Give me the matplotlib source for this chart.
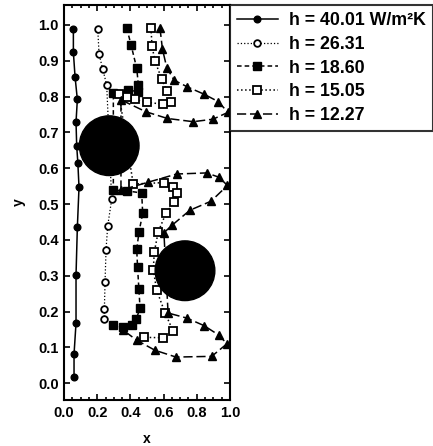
import matplotlib
matplotlib.use("Agg")
import matplotlib.pyplot as plt
from matplotlib.patches import Ellipse
from matplotlib.ticker import MultipleLocator

plt.rcParams['font.family'] = ['Liberation Sans', 'DejaVu Sans']
plt.rcParams['font.weight'] = 'bold'

labels = ["h = 40.01 W/m\u00b2K", "h = 26.31", "h = 18.60", "h = 15.05", "h = 12.27"]

# h = 40.01
x1 = [0.056, 0.056, 0.066, 0.080, 0.072, 0.076, 0.083, 0.090, 0.080, 0.072, 0.072, 0.060, 0.060]
y1 = [0.989, 0.924, 0.856, 0.792, 0.729, 0.663, 0.615, 0.547, 0.435, 0.302, 0.168, 0.081, 0.018]

# h = 26.31
x2 = [0.203, 0.211, 0.233, 0.257, 0.287, 0.263, 0.253, 0.247, 0.243, 0.243]
y2 = [0.989, 0.918, 0.877, 0.832, 0.513, 0.439, 0.373, 0.283, 0.206, 0.179]

# h = 18.60
x3 = [0.378, 0.404, 0.438, 0.448, 0.448, 0.387, 0.297, 0.297, 0.378, 0.468, 0.474,
      0.452, 0.438, 0.443, 0.451, 0.458, 0.434, 0.408, 0.357, 0.297]
y3 = [0.991, 0.944, 0.879, 0.832, 0.814, 0.818, 0.809, 0.539, 0.537, 0.531, 0.474,
      0.423, 0.374, 0.324, 0.263, 0.209, 0.178, 0.162, 0.156, 0.162]

# h = 15.05
x4 = [0.524, 0.530, 0.548, 0.589, 0.620, 0.646, 0.598, 0.498, 0.428, 0.378, 0.331,
      0.417, 0.602, 0.655, 0.683, 0.664, 0.614, 0.568, 0.544, 0.538, 0.558, 0.608,
      0.658, 0.596, 0.482]
y4 = [0.992, 0.942, 0.899, 0.849, 0.816, 0.785, 0.779, 0.784, 0.792, 0.798, 0.807,
      0.556, 0.560, 0.547, 0.530, 0.506, 0.474, 0.423, 0.367, 0.317, 0.260, 0.197,
      0.145, 0.127, 0.128]

# h = 12.27
x5 = [0.578, 0.593, 0.619, 0.663, 0.744, 0.843, 0.930, 0.988, 0.898, 0.779, 0.623,
      0.492, 0.343, 0.343, 0.506, 0.679, 0.860, 0.934, 0.985, 0.886, 0.759, 0.651,
      0.602, 0.627, 0.739, 0.843, 0.934, 0.982, 0.890, 0.675, 0.548, 0.438, 0.357]
y5 = [0.992, 0.933, 0.881, 0.846, 0.827, 0.807, 0.786, 0.756, 0.737, 0.730, 0.739,
      0.758, 0.791, 0.539, 0.561, 0.584, 0.587, 0.575, 0.552, 0.508, 0.483, 0.441,
      0.420, 0.196, 0.182, 0.161, 0.134, 0.110, 0.075, 0.073, 0.092, 0.120, 0.148]

# heated cylinders
cyl_x = [0.272, 0.729]
cyl_y = [0.663, 0.314]
cyl_d = 0.36

xlim = (0.0, 1.0)
ylim = (-0.047, 1.056)
pos = [0.148, 0.103, 0.383, 0.886]

fig = plt.figure(figsize=(4.33, 4.46), dpi=100)
ax = fig.add_axes(pos)

ax.plot(x1, y1, '-', color='black', lw=1.1, marker='o', ms=4.8, label=labels[0])
ax.plot(x2, y2, ':', color='black', lw=0.9, marker='o', ms=4.8, mfc='white', mew=1.3, label=labels[1])
ax.plot(x3, y3, color='black', ls=(0, (3, 2)), lw=1.1, marker='s', ms=5.5, label=labels[2])
ax.plot(x4, y4, ':', color='black', lw=1.1, marker='s', ms=5.3, mfc='white', mew=1.3, label=labels[3])
ax.plot(x5, y5, color='black', ls=(0, (6, 2.5)), lw=1.1, marker='^', ms=5.3, label=labels[4])

# keep cylinders round on screen
sx = fig.get_figwidth() * pos[2] / (xlim[1] - xlim[0])
sy = fig.get_figheight() * pos[3] / (ylim[1] - ylim[0])
for cx, cy in zip(cyl_x, cyl_y):
    ax.add_patch(Ellipse((cx, cy), cyl_d, cyl_d * sx / sy, color='black', zorder=5))

ax.set_xlim(*xlim)
ax.set_ylim(*ylim)
ax.xaxis.set_major_locator(MultipleLocator(0.2))
ax.xaxis.set_minor_locator(MultipleLocator(0.05))
ax.yaxis.set_major_locator(MultipleLocator(0.1))
ax.tick_params(which='both', direction='in', top=True, right=True, labelsize=10.5, width=1.2)
ax.tick_params(which='major', length=4, pad=4)
ax.tick_params(which='minor', length=2.5)
for s in ax.spines.values():
    s.set_linewidth(1.5)

ax.set_xlabel("x", fontsize=10, fontweight='bold', labelpad=9)
ax.set_ylabel("y", fontsize=10, fontweight='bold', labelpad=9)

leg = ax.legend(loc='upper left', bbox_to_anchor=(1.0, 1.0), borderaxespad=0,
                fancybox=False, edgecolor='black', fontsize=12.8, handlelength=2.3,
                labelspacing=0.38, handletextpad=0.6, borderpad=0.4)
leg.get_frame().set_linewidth(1.5)

fig.savefig("out.png", dpi=100)
